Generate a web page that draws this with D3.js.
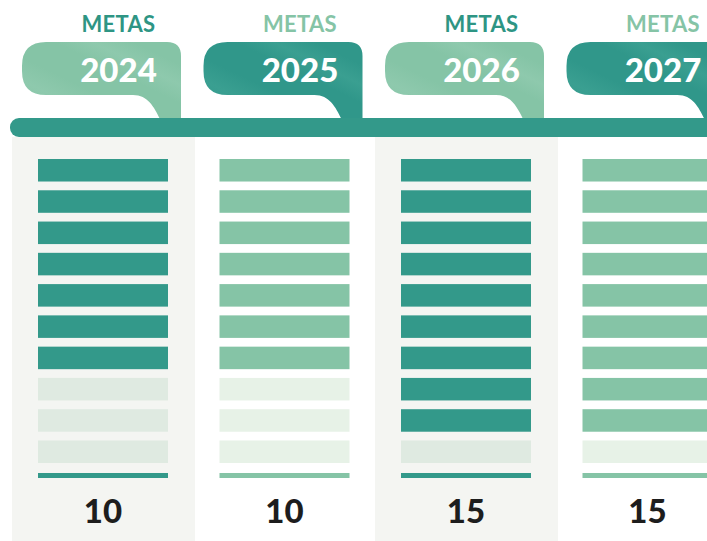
<!DOCTYPE html>
<html>
<head>
<meta charset="utf-8">
<script src="https://cdn.jsdelivr.net/npm/d3@7"></script>
<style>
  body { margin: 0; background: #fff; }
  svg { display: block; font-family: Lato, "Open Sans", sans-serif; }
</style>
</head>
<body>
<div id="chart"></div>
<script>
// data
var years = ["2024", "2025", "2026", "2027"]
var metas = [10, 10, 15, 15]
var filled = [7, 7, 9, 9]
var slots = d3.range(10)
var label = "METAS"

// display constants
var viewWidth = 707
var viewHeight = 541
var dark = "#33998a"
var light = "#85c4a6"
var emptyDark = "#dfeae1"
var emptyLight = "#e7f2e7"
var colBg = "#f4f5f2"

var svg = d3.select("#chart").append("svg")
  .attr("width", viewWidth)
  .attr("height", viewHeight)

var xScale = d3.scaleBand()
  .domain(years)
  .range([12, 12 + 181.5 * years.length])

var yScale = d3.scaleBand()
  .domain(slots)
  .range([159, 463])
  .paddingInner(0.28)

var step = xScale.bandwidth()

// gradients for the bubbles
var defs = svg.append("defs")
function sheen(id, base, hi) {
  var g = defs.append("linearGradient").attr("id", id)
    .attr("x1", "0%").attr("y1", "100%").attr("x2", "100%").attr("y2", "0%")
  var stops = [[0, base], [0.25, hi], [0.4, base], [0.6, base], [0.72, hi], [0.85, base], [1, base]]
  stops.forEach(s => g.append("stop").attr("offset", s[0]).attr("stop-color", s[1]))
}
sheen("g-light", light, "#8ec9ad")
sheen("g-dark", "#30978a", "#3a9f91")

// column backgrounds (every other one)
svg.selectAll(".colbg").data(years.filter((d, i) => i % 2 == 0))
  .enter().append("rect")
  .attr("class", "colbg")
  .attr("x", d => xScale(d))
  .attr("y", 137)
  .attr("width", step + 1.5)
  .attr("height", viewHeight - 137)
  .attr("fill", colBg)

// bubbles
function bubblePath(x) {
  var x0 = x + 10, x1 = x + 169
  var y0 = 42, yb = 95, yBar = 119, r = 24, rt = 14
  return "M" + (x0 + r) + "," + y0 +
    " H" + (x1 - rt) +
    " Q" + x1 + "," + y0 + " " + x1 + "," + (y0 + rt) +
    " V" + yBar +
    " H" + (x1 - 21) +
    " C" + (x1 - 27) + "," + (yb + 12) + " " + (x1 - 33) + "," + yb + " " + (x1 - 48) + "," + yb +
    " H" + (x0 + r) +
    " Q" + x0 + "," + yb + " " + x0 + "," + (yb - r) +
    " V" + (y0 + r) +
    " Q" + x0 + "," + y0 + " " + (x0 + r) + "," + y0 + " Z"
}

var head = svg.selectAll(".head").data(years)
  .enter().append("g")
  .attr("class", "head")

head.append("path")
  .attr("d", d => bubblePath(xScale(d)))
  .attr("fill", (d, i) => i % 2 == 0 ? "url(#g-light)" : "url(#g-dark)")

head.append("text")
  .attr("x", d => xScale(d) + 106.5)
  .attr("y", 32)
  .attr("text-anchor", "middle")
  .attr("font-size", 22)
  .attr("font-weight", 700)
  .attr("letter-spacing", 0.3)
  .attr("fill", (d, i) => i % 2 == 0 ? "#2e9584" : light)
  .text(label)

head.append("text")
  .attr("x", d => xScale(d) + 106.5)
  .attr("y", 82)
  .attr("text-anchor", "middle")
  .attr("font-size", 33)
  .attr("font-weight", 900)
  .attr("fill", "#fff")
  .text(d => d)

// timeline bar
svg.append("rect")
  .attr("x", 10)
  .attr("y", 118)
  .attr("width", viewWidth + 20)
  .attr("height", 19)
  .attr("rx", 9)
  .attr("fill", dark)

// slot bars
years.forEach(function(year, i) {
  var g = svg.append("g").attr("class", "col")
  var on = i % 2 == 0 ? dark : light
  var off = i % 2 == 0 ? emptyDark : emptyLight

  g.selectAll("rect.slot").data(slots)
    .enter().append("rect")
    .attr("class", "slot")
    .attr("x", xScale(year) + 26)
    .attr("y", d => yScale(d))
    .attr("width", 130)
    .attr("height", yScale.bandwidth())
    .attr("fill", d => d < filled[i] ? on : off)

  g.append("rect")
    .attr("x", xScale(year) + 26)
    .attr("y", 473)
    .attr("width", 130)
    .attr("height", 5)
    .attr("fill", on)

  g.append("text")
    .attr("x", xScale(year) + 91)
    .attr("y", 523)
    .attr("text-anchor", "middle")
    .attr("font-size", 33)
    .attr("font-weight", 900)
    .attr("fill", "#1d1d1d")
    .text(metas[i])
})
</script>
</body>
</html>
